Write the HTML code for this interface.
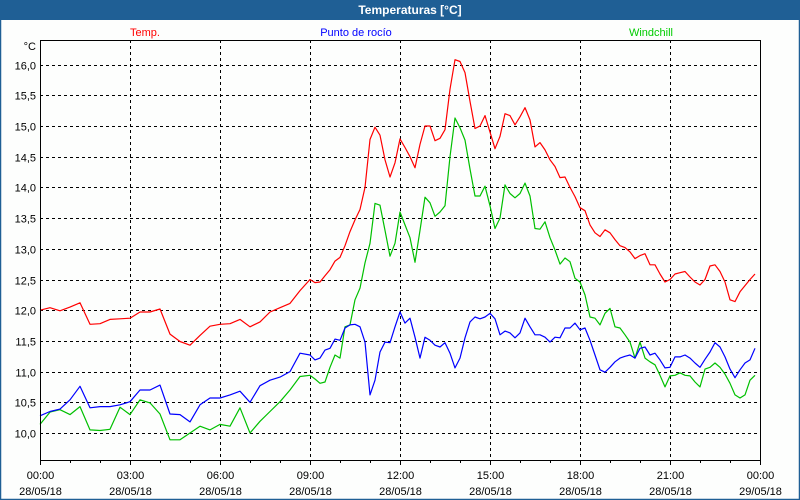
<!DOCTYPE html>
<html><head><meta charset="utf-8"><style>
html,body{margin:0;padding:0;width:800px;height:500px;overflow:hidden;background:#fff}
svg{display:block;font-family:"Liberation Sans",sans-serif}
</style></head><body>
<svg id="chart" width="800" height="500" viewBox="0 0 800 500" xmlns="http://www.w3.org/2000/svg">
<rect x="0.5" y="0.5" width="799" height="499" fill="#fdfefd" stroke="#1f5f95" stroke-width="1.5"/>
<rect x="0" y="0" width="800" height="20" fill="#1f5f95"/>
<text x="410" y="14" fill="#fff" font-size="12" font-weight="bold" text-anchor="middle">Temperaturas [°C]</text>
<text x="145" y="36" fill="#ff0000" font-size="11" text-anchor="middle">Temp.</text>
<text x="356" y="36" fill="#0000ff" font-size="11" text-anchor="middle">Punto de rocío</text>
<text x="651" y="36" fill="#00cc00" font-size="11" text-anchor="middle">Windchill</text>
<text x="36" y="50" font-size="11" text-anchor="end">°C</text>
<g id="grid"></g><g id="series"></g><g id="axes"></g>
</svg>
<script>
const timesMin=[0,20,40,60,80,100,120,140,160,180,200,220,240,260,280,300,320,340,360,380,400,420,440,460,480,500,520,
540,550,560,570,580,590,600,610,620,630,640,650,660,670,680,690,700,710,720,730,740,750,760,770,780,790,800,810,820,830,840,850,860,870,880,890,900,910,920,930,940,950,960,970,980,990,1000,1010,1020,
1030,1040,1050,1060,1070,1080,1090,1100,1110,1120,1130,1140,1150,1160,1170,1180,1190,1200,1210,1220,1230,1240,1250,1260,1270,1280,1290,1300,1310,1320,1330,1340,1350,1360,1370,1380,1390,1400,1410,1420,1430];
const tempValues=[12.0,12.04,11.99,12.05,12.12,11.77,11.78,11.85,11.86,11.87,11.97,11.97,12.02,11.61,11.49,11.43,11.59,11.74,11.77,11.78,11.85,11.73,11.81,11.97,12.04,12.11,12.32,
12.5,12.45,12.46,12.56,12.66,12.8,12.86,13.05,13.28,13.47,13.64,14.0,14.78,14.98,14.85,14.45,14.17,14.4,14.79,14.65,14.5,14.32,14.7,15.0,15.0,14.76,14.8,14.94,15.6,16.08,16.05,15.87,15.4,14.96,15.0,15.17,14.9,14.63,14.83,15.2,15.17,15.02,15.15,15.3,15.1,14.66,14.73,14.61,14.45,
14.34,14.16,14.17,14.0,13.85,13.67,13.62,13.39,13.26,13.2,13.31,13.26,13.15,13.05,13.02,12.95,12.84,12.89,12.92,12.74,12.74,12.59,12.46,12.5,12.59,12.61,12.63,12.54,12.46,12.41,12.5,12.72,12.74,12.63,12.46,12.17,12.14,12.3,12.4,12.5,12.59];
const dewValues=[10.28,10.35,10.39,10.54,10.76,10.41,10.43,10.43,10.46,10.51,10.70,10.70,10.78,10.31,10.30,10.18,10.46,10.57,10.57,10.62,10.68,10.50,10.77,10.86,10.91,11.0,11.3,
11.27,11.19,11.22,11.35,11.38,11.53,11.51,11.71,11.76,11.77,11.73,11.48,10.62,10.86,11.32,11.48,11.47,11.73,11.97,11.79,11.87,11.56,11.22,11.56,11.51,11.43,11.4,11.47,11.3,11.06,11.22,11.55,11.81,11.89,11.86,11.89,11.95,11.86,11.6,11.66,11.63,11.55,11.63,11.87,11.73,11.6,11.6,11.56,11.48,
11.56,11.55,11.71,11.71,11.79,11.68,11.71,11.51,11.27,11.03,10.99,11.07,11.16,11.22,11.25,11.27,11.22,11.38,11.4,11.27,11.3,11.19,11.06,11.07,11.24,11.24,11.27,11.22,11.14,11.07,11.2,11.32,11.47,11.4,11.24,11.04,10.9,11.03,11.14,11.19,11.38];
const chillValues=[10.14,10.34,10.38,10.3,10.43,10.05,10.04,10.06,10.42,10.3,10.54,10.49,10.31,9.89,9.89,10.0,10.11,10.05,10.14,10.11,10.41,10.0,10.19,10.35,10.51,10.70,10.92,
10.94,10.88,10.81,10.83,11.07,11.27,11.22,11.73,11.76,12.17,12.36,12.77,13.09,13.74,13.71,13.3,12.88,13.09,13.6,13.39,13.18,12.78,13.3,13.84,13.75,13.53,13.6,13.7,14.5,15.13,14.97,14.77,14.3,13.86,13.86,14.02,13.7,13.33,13.5,14.04,13.9,13.83,13.9,14.07,13.86,13.33,13.32,13.44,13.18,
12.98,12.75,12.85,12.79,12.52,12.46,12.25,11.89,11.87,11.76,11.95,12.03,11.73,11.71,11.6,11.48,11.22,11.48,11.22,11.16,11.11,10.94,10.75,10.93,10.94,10.98,10.94,10.93,10.83,10.75,11.04,11.07,11.14,11.07,10.96,10.81,10.62,10.57,10.62,10.86,10.94];
const yTicks=[10.0,10.5,11.0,11.5,12.0,12.5,13.0,13.5,14.0,14.5,15.0,15.5,16.0];
const xTickHours=[0,3,6,9,12,15,18,21,24];
const xTickTimes=["00:00","03:00","06:00","09:00","12:00","15:00","18:00","21:00","00:00"];
const xTickDates=["28/05/18","28/05/18","28/05/18","28/05/18","28/05/18","28/05/18","28/05/18","28/05/18","29/05/18"];

const L=40,R=760,T=40,B=460;
const xMin=v=>L+(v/1440)*(R-L);
const yV=v=>433-(v-10)*61.4;
const NS="http://www.w3.org/2000/svg";
function mk(tag,attrs,parent){const e=document.createElementNS(NS,tag);for(const k in attrs)e.setAttribute(k,attrs[k]);parent.appendChild(e);return e;}
const grid=document.getElementById('grid'),series=document.getElementById('series'),axes=document.getElementById('axes');

yTicks.forEach((v,i)=>{
  const y=Math.round(yV(v))+0.5;
  const ln=mk('line',{x1:L,x2:R,y1:y,y2:y,stroke:'#000','stroke-width':1,'stroke-dasharray':'3,3'},grid);
  
  
  const t=mk('text',{x:36,y:y+4,'font-size':11,'text-anchor':'end'},axes);
  t.textContent=v.toFixed(1).replace('.',',');
  
  
});
xTickHours.forEach((h,i)=>{
  const x=Math.round(xMin(h*60))+0.5;
  if(i>0&&i<xTickHours.length-1){
    const ln=mk('line',{x1:x,x2:x,y1:T,y2:B,stroke:'#000','stroke-width':1,'stroke-dasharray':'3,3'},grid);
    
    
  }
  const t1=mk('text',{x:x,y:479,'font-size':11,'text-anchor':'middle'},axes);
  t1.textContent=xTickTimes[i];
  
  
  const t2=mk('text',{x:x,y:495,'font-size':11,'text-anchor':'middle'},axes);
  t2.textContent=xTickDates[i];
  
  
});
for(let h=0;h<=24;h++){
  const x=Math.round(xMin(h*60))+0.5;
  const tk=mk('line',{x1:x,x2:x,y1:B,y2:B+(h%3===0?5:3),stroke:'#000','stroke-width':1},axes);
  
  
}
const frame=mk('rect',{x:L+0.5,y:T+0.5,width:R-L,height:B-T,fill:'none',stroke:'#000','stroke-width':1},axes);



function drawLine(vals,color,name){
  const pts=vals.map((v,i)=>xMin(timesMin[i]).toFixed(1)+','+yV(v).toFixed(1)).join(' ');
  const p=mk('polyline',{points:pts,fill:'none',stroke:color,'stroke-width':1.2,'stroke-linejoin':'round'},series);
  
  
}
drawLine(chillValues,'#00c000','windchill-line');
drawLine(dewValues,'#0000ff','dewpoint-line');
drawLine(tempValues,'#ff0000','temp-line');
</script>
</body></html>
